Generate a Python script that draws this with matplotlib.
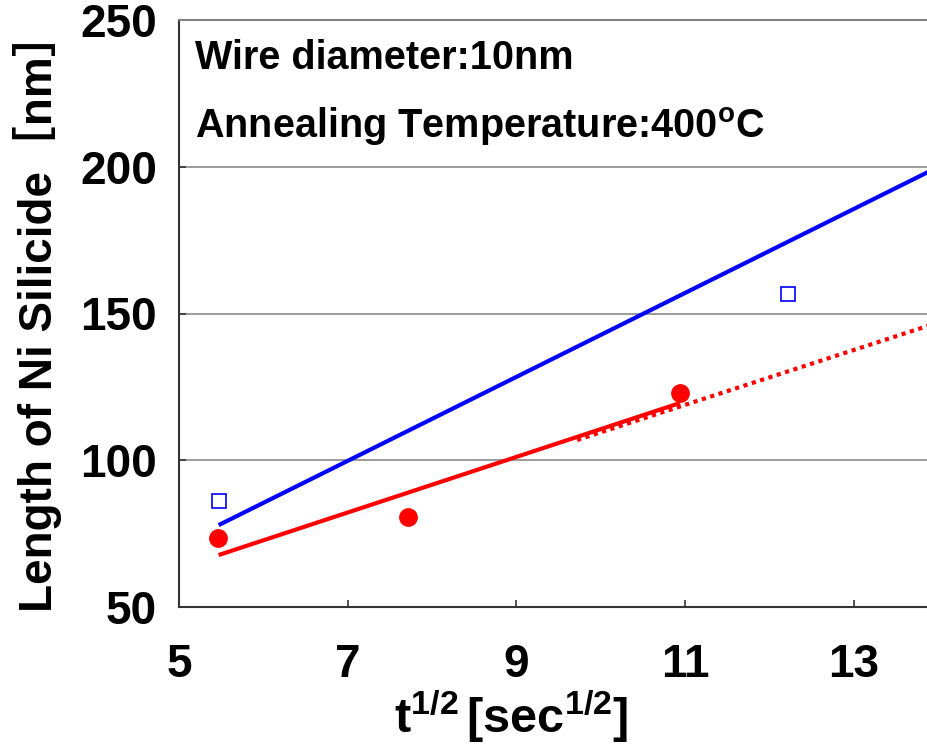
import matplotlib
matplotlib.use("Agg")
import matplotlib.pyplot as plt

# ---- data ----
t_red = [5.46, 7.72, 10.94]
L_red = [73.5, 80.7, 122.9]
t_blue = [5.47, 12.22]
L_blue = [86.1, 156.7]

fit_blue_t = [5.47, 14.0]
fit_blue_L = [77.9, 199.9]
fit_red_t = [5.47, 10.94]
fit_red_L = [67.7, 119.5]
ext_red_t = [9.72, 14.0]
ext_red_L = [106.9, 146.9]

xticks = [5, 7, 9, 11, 13]
yticks = [50, 100, 150, 200, 250]

plt.rcParams['font.family'] = ['Liberation Sans', 'Noto Sans CJK JP']
plt.rcParams['font.weight'] = 'bold'
plt.rcParams['mathtext.fontset'] = 'custom'
plt.rcParams['mathtext.rm'] = 'Liberation Sans:bold'
plt.rcParams['mathtext.it'] = 'Liberation Sans:bold'
plt.rcParams['mathtext.bf'] = 'Liberation Sans:bold'

fig = plt.figure(figsize=(9.28, 7.44), dpi=100)
W, H = 928, 744
x0, x1 = 179, 938
y0, y1 = 607, 20
ax = fig.add_axes([x0 / W, (H - y0) / H, (x1 - x0) / W, (y0 - y1) / H])

ax.set_xlim(5, 14)
ax.set_ylim(50, 250)

for yv in [100, 150, 200]:
    ax.axhline(yv, color='#808080', lw=1.1, zorder=1)

ax.plot(fit_blue_t, fit_blue_L, color='#0000FF', lw=3.0, solid_capstyle='butt', zorder=3)
ax.plot(fit_red_t, fit_red_L, color='#FF0000', lw=3.0, solid_capstyle='butt', zorder=3)
ax.plot(ext_red_t, ext_red_L, color='#FF0000', lw=3.0, linestyle=(0, (1, 1.1)),
        dash_capstyle='butt', zorder=3)
ax.plot(t_blue, L_blue, linestyle='none', marker='s', markersize=9.5,
        markerfacecolor='white', markeredgecolor='#0000FF', markeredgewidth=1.2, zorder=4)
ax.plot(t_red, L_red, linestyle='none', marker='o', markersize=12.5,
        markerfacecolor='#FF0000', markeredgecolor='#FF0000', zorder=4)

ax.set_xticks(xticks)
ax.set_yticks(yticks)
ax.tick_params(axis='both', direction='in', length=5, width=1.2, color='#333333',
               labelsize=33)
ax.tick_params(axis='x', pad=26)
ax.tick_params(axis='y', pad=16)
for lab in ax.get_xticklabels() + ax.get_yticklabels():
    lab.set_fontweight('bold')

ax.spines['left'].set_color('#333333')
ax.spines['bottom'].set_color('#333333')
ax.spines['left'].set_linewidth(1.5)
ax.spines['bottom'].set_linewidth(1.5)
ax.spines['top'].set_color('#808080')
ax.spines['top'].set_linewidth(1.5)
ax.spines['right'].set_visible(False)

ax.text(0.021, 0.9166, "Wire diameter:10nm", transform=ax.transAxes,
        fontsize=28.5, fontweight='bold', va='baseline', ha='left')
ax.text(0.021, 0.799, r"Annealing Temperature:400$^{\mathrm{o}}$C", transform=ax.transAxes,
        fontsize=28.5, fontweight='bold', va='baseline', ha='left')

fig.text(38 / W, 1 - 311 / H, "Length of Ni Silicide［nm］", rotation=90,
         ha='center', va='center', fontsize=33, fontweight='bold')
fig.text(511 / W, (H - 733) / H, r"$\mathrm{t}^{1/2}\,[\mathrm{sec}^{1/2}]$",
         ha='center', va='baseline', fontsize=35)

fig.savefig("out.png", dpi=100)
